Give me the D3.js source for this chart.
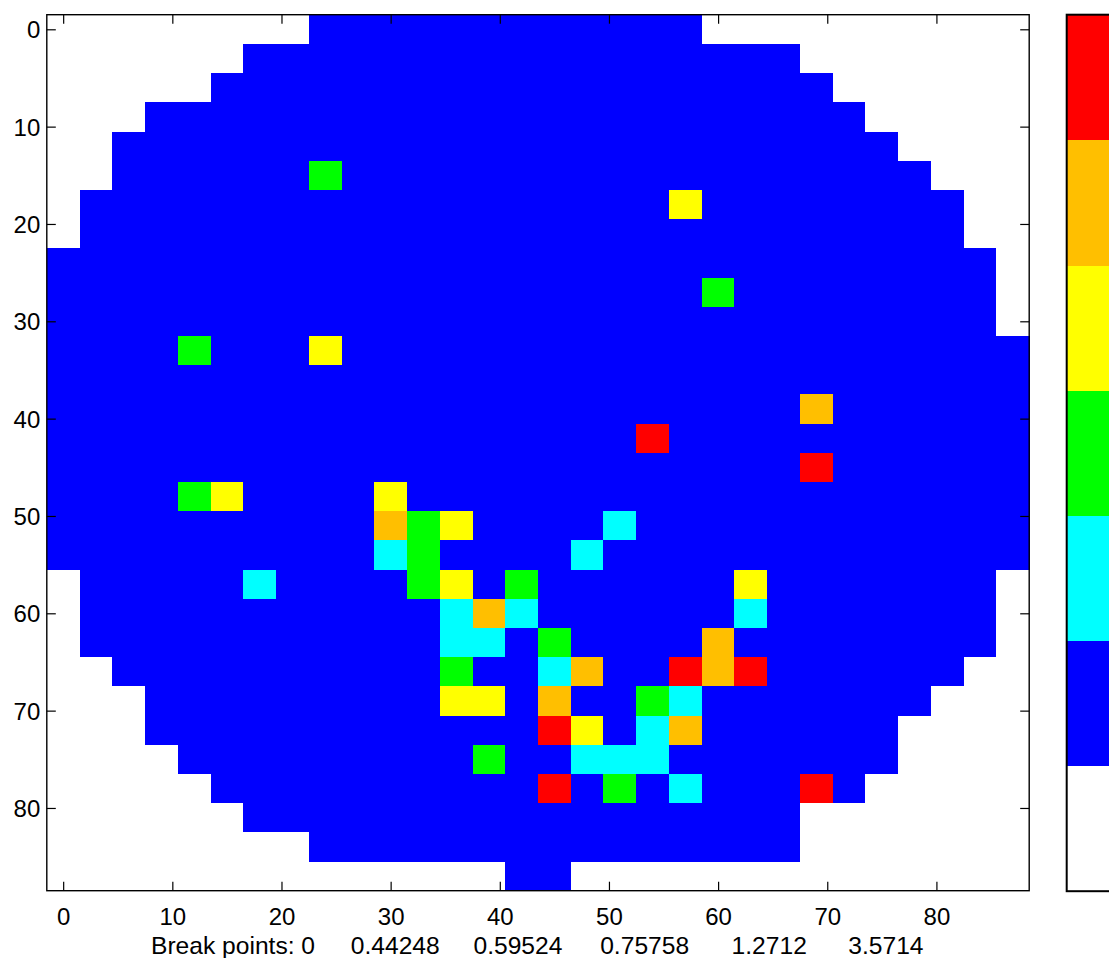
<!DOCTYPE html>
<html><head><meta charset="utf-8">
<script src="https://cdn.jsdelivr.net/npm/d3@7"></script>
<style>
html,body{margin:0;padding:0;background:#fff;overflow:hidden}
svg{display:block}
text{font-family:"Liberation Sans",Arial,Helvetica,sans-serif;fill:#000}
</style></head><body>
<svg id="chart" width="1109" height="958"></svg>
<script>
// ---- data ----
// cell centres (image x / y coordinates)
const xCenters = [0,3,6,9,12,15,18,21,24,27,30,33,36,39,42,45,48,51,54,57,60,63,66,69,72,75,78,81,84,87];
const yCenters = [0,3,6,9,12,15,18,21,24,27,30,33,36,39,42,45,48,51,54,57,60,63,66,69,72,75,78,81,84,87];
// first / last filled column index for each row (outside = white / NaN)
const rowStart = [8,6,5,3,2,2,1,1,0,0,0,0,0,0,0,0,0,0,0,1,1,1,2,3,3,4,5,6,8,14];
const rowEnd   = [19,22,23,24,25,26,27,27,28,28,28,29,29,29,29,29,29,29,29,28,28,28,27,26,25,25,24,22,22,15];
// class levels: 0 = outside, 1 = blue, 2 = cyan, 3 = green, 4 = yellow, 5 = orange, 6 = red
const baseLevel = 1;
const cellRows = [5,6,9,11,11,13,14,15,16,16,16,17,17,17,17,18,18,18,19,19,19,19,19,20,20,20,20,21,21,21,21,22,22,22,22,22,22,23,23,23,23,23,24,24,24,24,25,25,25,25,26,26,26,26];
const cellCols = [8,19,20,4,8,23,18,23,4,5,10,10,11,12,17,10,11,16,6,11,12,14,21,12,13,14,21,12,13,15,20,12,15,16,19,20,21,12,13,15,18,19,15,16,18,19,13,16,17,18,15,17,19,23];
const cellLevels = [3,4,3,3,4,5,6,6,3,4,4,5,3,4,2,2,3,2,2,3,4,3,4,2,5,2,2,2,2,3,5,3,2,5,6,5,6,4,4,5,3,2,6,4,2,5,3,2,2,2,6,3,2,6];
const levelColors = ["#FFFFFF","#0000FF","#00FFFF","#00FF00","#FFFF00","#FFBF00","#FF0000"];
const breakPoints = ["0","0.44248","0.59524","0.75758","1.2712","3.5714"];
const xTicks = [0,10,20,30,40,50,60,70,80];
const yTicks = [0,10,20,30,40,50,60,70,80];

// ---- layout ----
const W = 1109, H = 958;
const plot = {left:46.8, right:1029.2, top:14.7, bottom:890.7};
const cb = {left:1066.7, width:60, top:14.7, bottom:891.2};
const labelX = [151, 350.8, 473.5, 600.2, 731.6, 848.3]; // start x of each x-label piece
const svg = d3.select("#chart");
svg.append("rect").attr("width",W).attr("height",H).attr("fill","#fff");

const x = d3.scaleLinear().domain([-1.5,88.5]).range([plot.left,plot.right]);
const y = d3.scaleLinear().domain([-1.5,88.5]).range([plot.top,plot.bottom]);
const color = d3.scaleOrdinal().domain(d3.range(levelColors.length)).range(levelColors);

// build cell list
const overrides = new Map();
cellRows.forEach((r,i)=>overrides.set(r+"_"+cellCols[i], cellLevels[i]));
const cells = [];
yCenters.forEach((yc,r)=>{
  xCenters.forEach((xc,c)=>{
    const inside = c>=rowStart[r] && c<=rowEnd[r];
    const lvl = inside ? (overrides.has(r+"_"+c) ? overrides.get(r+"_"+c) : baseLevel) : 0;
    cells.push({xc,yc,lvl});
  });
});

svg.append("g").selectAll("rect").data(cells).join("rect")
  .attr("shape-rendering","crispEdges")
  .attr("x",d=>x(d.xc-1.5))
  .attr("y",d=>y(d.yc-1.5))
  .attr("width",d=>x(d.xc+1.5)-x(d.xc-1.5)+0.4)
  .attr("height",d=>y(d.yc+1.5)-y(d.yc-1.5)+0.4)
  .attr("fill",d=>color(d.lvl));

// axes (ticks inward on all four sides)
const fs = "24px";
const gB = svg.append("g").attr("transform",`translate(0,${plot.bottom})`)
  .call(d3.axisBottom(x).tickValues(xTicks).tickSizeInner(-9).tickSizeOuter(0).tickFormat(d3.format("d")));
gB.selectAll("text").attr("y",34).attr("dy",null).style("font-size",fs);
const gT = svg.append("g").attr("transform",`translate(0,${plot.top})`)
  .call(d3.axisTop(x).tickValues(xTicks).tickSizeInner(-9).tickSizeOuter(0).tickFormat(""));
const gL = svg.append("g").attr("transform",`translate(${plot.left},0)`)
  .call(d3.axisLeft(y).tickValues(yTicks).tickSizeInner(-9).tickSizeOuter(0).tickPadding(6.5).tickFormat(d3.format("d")));
gL.selectAll("text").attr("dy","0.35em").style("font-size",fs);
const gR = svg.append("g").attr("transform",`translate(${plot.right},0)`)
  .call(d3.axisRight(y).tickValues(yTicks).tickSizeInner(-9).tickSizeOuter(0).tickFormat(""));
[gB,gT,gL,gR].forEach(g=>{
  g.select(".domain").remove();
  g.selectAll(".tick line").attr("stroke","#000").attr("stroke-width",1.2);
  g.attr("font-family",null).attr("font-size",null);
});

// frame
svg.append("rect").attr("x",plot.left).attr("y",plot.top)
  .attr("width",plot.right-plot.left).attr("height",plot.bottom-plot.top)
  .attr("fill","none").attr("stroke","#000").attr("stroke-width",1.4);

// x label
const pieces = breakPoints.map((b,i)=> i===0 ? "Break points: " + b : b);
svg.append("text").attr("y",954).style("font-size","24.6px")
  .selectAll("tspan").data(pieces).join("tspan")
  .attr("x",(d,i)=>labelX[i])
  .text(d=>d);

// colorbar
const cy = d3.scaleLinear().domain([0,levelColors.length]).range([cb.bottom,cb.top]);
const cbg = svg.append("g");
cbg.selectAll("rect").data(d3.range(levelColors.length)).join("rect")
  .attr("shape-rendering","crispEdges")
  .attr("x",cb.left).attr("width",cb.width)
  .attr("y",d=>cy(d+1)).attr("height",d=>cy(d)-cy(d+1)+0.4)
  .attr("fill",d=>color(d));
cbg.append("rect").attr("x",cb.left).attr("y",cb.top)
  .attr("width",cb.width).attr("height",cb.bottom-cb.top)
  .attr("fill","none").attr("stroke","#000").attr("stroke-width",2);
</script>
</body></html>
